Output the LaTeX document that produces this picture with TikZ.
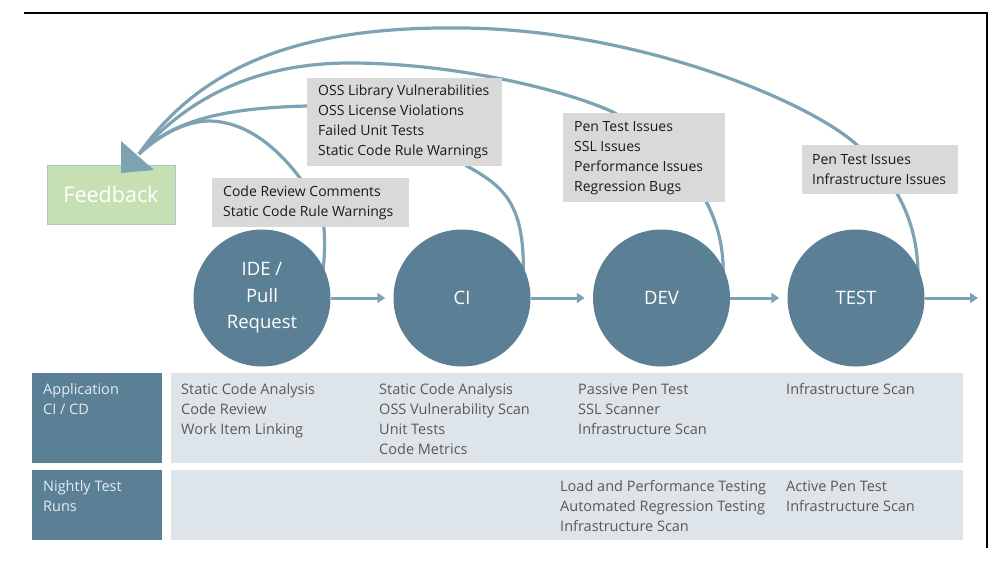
\documentclass[tikz,border=0pt]{standalone}
\usepackage{fontspec}
\setmainfont{Open Sans}
\usetikzlibrary{arrows.meta}
\definecolor{stage}{HTML}{5B7F94}
\definecolor{curve}{HTML}{7DA2B4}
\definecolor{rowbg}{HTML}{DEE5EA}
\definecolor{gboxfill}{HTML}{D9D9D9}
\definecolor{fbgreen}{HTML}{C6E0B4}
\definecolor{fbedge}{HTML}{A9C4D6}
\definecolor{tabtext}{HTML}{595959}
\definecolor{boxtext}{HTML}{1A1A1A}
\definecolor{labtext}{HTML}{E4ECF1}
\begin{document}
\begin{tikzpicture}[x=1pt,y=-1pt,
  stagenode/.style={circle, fill=stage, minimum size=137pt, inner sep=0pt, text=white, align=center, font=\fontsize{18.5}{26.5}\selectfont},
  issuebox/.style={fill=gboxfill, anchor=north west, inner sep=0pt},
  issuetext/.style={anchor=west, inner sep=0pt, align=left, font=\fontsize{14}{20}\selectfont, text=boxtext},
  fbline/.style={draw=curve, line width=3.2pt},
  flow/.style={draw=curve, line width=3pt, -{Triangle[length=8pt,width=10pt]}, shorten >=8pt},
  cellbox/.style={anchor=north west, inner sep=0pt},
  celltext/.style={anchor=north west, inner sep=0pt, align=left, font=\fontsize{14.5}{20}\selectfont, text=tabtext},
  labeltext/.style={celltext, text=labtext},
  fbnode/.style={fill=fbgreen, draw=fbedge, line width=0.8pt, minimum width=128pt, minimum height=59pt, text=white, font=\fontsize{21.5}{24}\selectfont},
  framestyle/.style={line width=1.2pt, draw=black}
]
\useasboundingbox (0,0) rectangle (1000,565);

% frame
\coordinate (frA) at (24,13);
\coordinate (frB) at (987,13);
\coordinate (frC) at (987,548);
\draw[framestyle] (frA) -- (frB) -- (frC);

% stage positions
\coordinate (ideC) at (262,298);
\coordinate (ciC) at (462,298);
\coordinate (devC) at (661.5,298);
\coordinate (testC) at (856,298);
\coordinate (exit) at (978,298);

% feedback targets
\coordinate (fbjoin) at (139,154);
\coordinate (ahA) at (121,141);
\coordinate (ahB) at (154,170);
\coordinate (ahTip) at (121,173);

% feedback curves (below everything)
\draw[fbline] ([shift={(23:66pt)}]ideC) .. controls (330,210) and (315,195) .. (300,178)
  .. controls (275,145) and (245,122) .. (210,121)
  .. controls (185,121) and (160,135) .. (fbjoin);
\draw[fbline] ([shift={(22:66pt)}]ciC) .. controls (525,200) and (500,185) .. (467,166)
  .. controls (420,120) and (360,104) .. (307,106)
  .. controls (230,108) and (175,118) .. (fbjoin);
\draw[fbline] ([shift={(21:66pt)}]devC) .. controls (725,190) and (660,140) .. (613,112)
  .. controls (560,88) and (450,63) .. (350,63)
  .. controls (260,63) and (190,95) .. (fbjoin);
\draw[fbline] ([shift={(20:66pt)}]testC) .. controls (918,215) and (890,175) .. (857,145)
  .. controls (810,102) and (640,30) .. (463,28)
  .. controls (310,26) and (205,60) .. (fbjoin);

% stages on top of curves
\node[stagenode] (ide) at (ideC) {IDE /\\Pull\\Request};
\node[stagenode] (ci) at (ciC) {CI};
\node[stagenode] (dev) at (devC) {DEV};
\node[stagenode] (test) at (testC) {TEST};

% flow arrows
\draw[flow] (ide) -- (ci);
\draw[flow] (ci) -- (dev);
\draw[flow] (dev) -- (test);
\draw[flow, shorten >=0pt] (test) -- (exit);

% issue boxes
\node[issuebox, minimum width=197pt, minimum height=49pt] (b1) at (212,178) {};
\node[issuetext] (t1) at ([xshift=11pt]b1.west) {Code Review Comments\\Static Code Rule Warnings};
\node[issuebox, minimum width=195pt, minimum height=88pt] (b2) at (307,78) {};
\node[issuetext] (t2) at ([xshift=11pt]b2.west) {OSS Library Vulnerabilities\\OSS License Violations\\Failed Unit Tests\\Static Code Rule Warnings};
\node[issuebox, minimum width=162pt, minimum height=89pt] (b3) at (563,113) {};
\node[issuetext] (t3) at ([xshift=11pt]b3.west) {Pen Test Issues\\SSL Issues\\Performance Issues\\Regression Bugs};
\node[issuebox, minimum width=156pt, minimum height=49pt] (b4) at (802,145) {};
\node[issuetext] (t4) at ([xshift=10pt]b4.west) {Pen Test Issues\\Infrastructure Issues};

% feedback box and arrow head
\node[fbnode] (fb) at (111,194.5) {Feedback};
\fill[curve] (ahA) -- (ahB) -- (ahTip) -- cycle;

% table
\node[cellbox, fill=stage, minimum width=130pt, minimum height=90pt] (lab1) at (32,373) {};
\node[cellbox, fill=stage, minimum width=130pt, minimum height=70pt] (lab2) at (32,470) {};
\node[cellbox, fill=rowbg, minimum width=792pt, minimum height=90pt] (row1) at (171,373) {};
\node[cellbox, fill=rowbg, minimum width=792pt, minimum height=70pt] (row2) at (171,470) {};

\node[labeltext] (l1) at (43,380) {\strut Application\\CI / CD};
\node[labeltext] (l2) at (43,477) {\strut Nightly Test\\Runs};

\node[celltext] (c11) at (181,380) {\strut Static Code Analysis\\Code Review\\Work Item Linking};
\node[celltext] (c12) at (379,380) {\strut Static Code Analysis\\OSS Vulnerability Scan\\Unit Tests\\Code Metrics};
\node[celltext] (c13) at (578,380) {\strut Passive Pen Test\\SSL Scanner\\Infrastructure Scan};
\node[celltext] (c14) at (786,380) {\strut Infrastructure Scan};

\node[celltext] (c23) at (560,477) {\strut Load and Performance Testing\\Automated Regression Testing\\Infrastructure Scan};
\node[celltext] (c24) at (786,477) {\strut Active Pen Test\\Infrastructure Scan};
\end{tikzpicture}
\end{document}
